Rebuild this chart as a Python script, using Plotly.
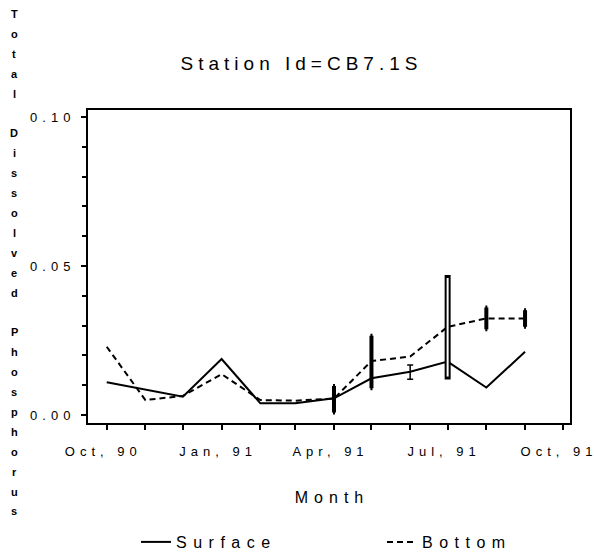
import plotly.graph_objects as go

# ---------------- data ----------------
months = ["1990-10-01", "1990-11-01", "1990-12-01", "1991-01-01", "1991-02-01", "1991-03-01",
          "1991-04-01", "1991-05-01", "1991-06-01", "1991-07-01", "1991-08-01", "1991-09-01"]
surface = [0.0110, 0.0084, 0.0061, 0.0188, 0.0039, 0.0039,
           0.0056, 0.0123, 0.0145, 0.0179, 0.0092, 0.0212]
bottom = [0.0229, 0.0050, 0.0064, 0.0137, 0.0050, 0.0048,
          0.0055, 0.0181, 0.0196, 0.0296, 0.0324, 0.0324]

# sample ranges (vertical bars)
range_months = ["1991-04-01", "1991-05-01", "1991-06-01", "1991-07-01", "1991-08-01", "1991-09-01"]
range_low = [0.0008, 0.0090, 0.0120, 0.0129, 0.0288, 0.0296]
range_high = [0.0097, 0.0266, 0.0168, 0.0460, 0.0361, 0.0352]

title_text = "Station Id=CB7.1S"
y_title = "Total Dissolved Phosphorus"
x_title = "Month"
x_tickvals = ["1990-10-01", "1991-01-01", "1991-04-01", "1991-07-01", "1991-10-01"]
x_ticktext = ["Oct, 90", "Jan, 91", "Apr, 91", "Jul, 91", "Oct, 91"]
y_tickvals = [0.0, 0.05, 0.10]
y_ticktext = ["0.00", "0.05", "0.10"]

# ---------------- style ----------------
FONT = "Liberation Sans, Arial, sans-serif"


def sp(t, ls):
    # letter-spaced text (no trailing space after the last character)
    return f"<span style='letter-spacing:{ls}px'>{t[:-1]}</span>{t[-1]}"


W, H = 594, 556
ML, MR, MT, MB = 88, 24, 110, 133
PW, PH = W - ML - MR, H - MT - MB

fig = go.Figure()

fig.add_trace(go.Scatter(x=months, y=surface, mode="lines", name=sp("Surface", 6.5),
                         legend="legend", line=dict(color="black", width=2)))
fig.add_trace(go.Scatter(x=months, y=bottom, mode="lines", name=sp("Bottom", 6.5),
                         legend="legend2", line=dict(color="black", width=2, dash="6px,4px")))

# range bars grouped by drawing style
groups = {
    "thick": ([0, 1, 4, 5], 4, 1, "black"),
    "thin": ([2], 1.5, 3, "black"),
    "hollow": ([3], 6, 3, "black"),
}
for key, (idx, thick, capw, col) in groups.items():
    xs = [range_months[i] for i in idx]
    lo = [range_low[i] for i in idx]
    hi = [range_high[i] - range_low[i] for i in idx]
    fig.add_trace(go.Scatter(x=xs, y=lo, mode="markers", showlegend=False, hoverinfo="skip",
                             marker=dict(size=1, opacity=0),
                             error_y=dict(type="data", symmetric=False, array=hi,
                                          arrayminus=[0] * len(idx), color=col,
                                          thickness=thick, width=capw)))
# hollow interior for the July range
idx = groups["hollow"][0]
fig.add_trace(go.Scatter(x=[range_months[i] for i in idx], y=[range_low[i] for i in idx],
                         mode="markers", showlegend=False, hoverinfo="skip",
                         marker=dict(size=1, opacity=0),
                         error_y=dict(type="data", symmetric=False,
                                      array=[range_high[i] - range_low[i] for i in idx],
                                      arrayminus=[0] * len(idx), color="white",
                                      thickness=2, width=0)))

# vertical stacked y-axis title
annotations = []
pos = 0
for ch in y_title:
    if ch != " ":
        py = 14 + pos * 19.9
        annotations.append(dict(text=f"<b>{ch}</b>", x=(14 - ML) / PW, y=(MT + PH - py) / PH,
                                xref="paper", yref="paper", showarrow=False,
                                xanchor="center", yanchor="middle",
                                font=dict(family=FONT, size=11, color="black")))
    pos += 1

legend_common = dict(orientation="v", xanchor="left", y=(MT + PH - 542) / PH,
                     yanchor="middle", font=dict(size=16, family=FONT),
                     bgcolor="rgba(0,0,0,0)")

fig.update_layout(
    width=W, height=H, autosize=False,
    margin=dict(l=ML, r=MR, t=MT, b=MB, autoexpand=False),
    paper_bgcolor="white", plot_bgcolor="white",
    font=dict(family=FONT, color="black"),
    title=dict(text=sp(title_text, 5), x=299 / W, xref="container", xanchor="center",
               y=1 - 63 / H, yanchor="middle", font=dict(size=19, family=FONT)),
    annotations=annotations,
    showlegend=True,
    legend=dict(x=(136 - ML) / PW, **legend_common),
    legend2=dict(x=(382 - ML) / PW, **legend_common),
    xaxis=dict(type="date", range=["1990-09-16", "1991-10-07"],
               tickmode="array", tickvals=x_tickvals,
               ticktext=[sp(t, 5) for t in x_ticktext],
               ticks="outside", ticklen=5, tickwidth=1.5, tickcolor="black",
               tickfont=dict(size=13, family=FONT), ticklabelstandoff=10,
               ticklabelshift=-6, ticklabeloverflow="allow",
               minor=dict(tickmode="linear", tick0="1990-10-01", dtick="M1",
                          ticks="outside", ticklen=5, tickwidth=1.5, tickcolor="black",
                          showgrid=False),
               showline=True, linecolor="black", linewidth=2, mirror=True,
               showgrid=False, zeroline=False,
               title=dict(text=sp(x_title, 6), font=dict(size=16, family=FONT), standoff=34)),
    yaxis=dict(range=[-0.0027, 0.1024], tickmode="array", tickvals=y_tickvals,
               ticktext=[sp(t, 5) for t in y_ticktext],
               ticks="outside", ticklen=5, tickwidth=1.5, tickcolor="black",
               tickfont=dict(size=13, family=FONT), ticklabelstandoff=8,
               minor=dict(tickmode="linear", tick0=0, dtick=0.01, ticks="outside",
                          ticklen=4, tickwidth=1.5, tickcolor="black", showgrid=False),
               showline=True, linecolor="black", linewidth=2, mirror=True,
               showgrid=False, zeroline=False),
)

fig.write_html("out.html", config={"displayModeBar": False},
               post_script="document.body.style.margin='0px';")
